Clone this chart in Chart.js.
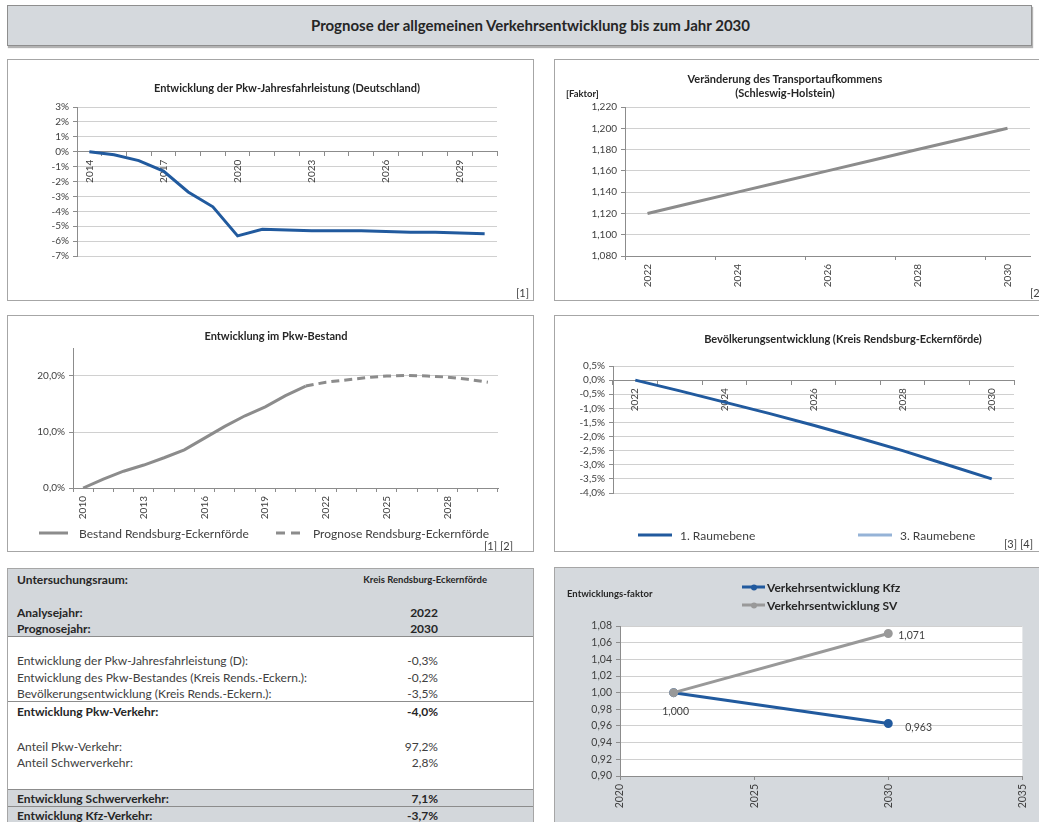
<!DOCTYPE html>
<html lang="de">
<head>
<meta charset="UTF-8">
<title>Prognose der allgemeinen Verkehrsentwicklung bis zum Jahr 2030</title>
<script src="https://cdn.jsdelivr.net/npm/chart.js@4.4.1/dist/chart.umd.min.js"></script>
<style>
  html, body { margin: 0; padding: 0; }
  body { width: 1039px; height: 822px; overflow: hidden; position: relative; background: #fff;
         font-family: Lato, "Open Sans", sans-serif; color: #262626; }
  .banner { position: absolute; left: 7px; top: 5px; width: 1025px; height: 41px; box-sizing: border-box;
            border: 1px solid #8e8e8e; background: #d5d9dd; box-shadow: 1px 2px 1px #b3b3b3;
            font-weight: bold; font-size: 15px; line-height: 39px; text-align: center; padding-left: 22px; }
  .panel { position: absolute; box-sizing: border-box; border: 1px solid #a6a6a6; background: #fff; overflow: hidden; }
  .panel canvas { position: absolute; left: 0; top: 0; }
  .t  { position: absolute; white-space: nowrap; transform: translate(-50%, -50%); font-weight: bold; font-size: 11px; }
  .n  { position: absolute; white-space: nowrap; transform: translateY(-50%); font-size: 12px; color: #404040; }
  .q  { position: absolute; white-space: nowrap; transform: translateY(-50%); font-size: 11px; color: #404040; }
  .lg { position: absolute; height: 3px; transform: translateY(-50%); }
  .dot { position: absolute; width: 6px; height: 6px; border-radius: 50%; left: 50%; top: 50%; transform: translate(-50%, -50%); }

  .row { position: relative; box-sizing: border-box; font-size: 12px; color: #404040; }
  .row span { position: absolute; top: 50%; transform: translateY(-50%); white-space: nowrap; }
  .row .l { left: 9px; }
  .row .r { right: 95px; }
  .grau { background: #d3d7db; }
  .b { font-weight: bold; color: #262626; }
  .linie { border-bottom: 1px solid #8c8c8c; }
</style>
</head>
<body>

<div class="banner">Prognose der allgemeinen Verkehrsentwicklung bis zum Jahr 2030</div>

<!-- oben links -->
<div class="panel" style="left:7px; top:59px; width:527px; height:242px;">
  <canvas id="cFahr" width="525" height="240"></canvas>
  <div class="t" style="left:279px; top:27px;">Entwicklung der Pkw-Jahresfahrleistung (Deutschland)</div>
  <div class="q" style="left:508px; top:232px;">[1]</div>
</div>

<!-- oben rechts -->
<div class="panel" style="left:554px; top:59px; width:500px; height:242px;">
  <canvas id="cTrans" width="484" height="240"></canvas>
  <div class="t" style="left:230px; top:18px;">Veränderung des Transportaufkommens</div>
  <div class="t" style="left:230px; top:32px;">(Schleswig-Holstein)</div>
  <div class="t" style="left:11px; top:33px; transform:translateY(-50%); font-size:9.5px;">[Faktor]</div>
  <div class="q" style="left:475px; top:232px;">[2]</div>
</div>

<!-- Mitte links -->
<div class="panel" style="left:7px; top:315px; width:527px; height:237px;">
  <canvas id="cBestand" width="525" height="235"></canvas>
  <div class="t" style="left:268px; top:19px;">Entwicklung im Pkw-Bestand</div>
  <div class="lg" style="left:31px; top:217px; width:29px; background:#8c8c8c;"></div>
  <div class="n" style="left:71px; top:217px;">Bestand Rendsburg-Eckernförde</div>
  <div class="lg" style="left:268px; top:217px; width:25px; background:repeating-linear-gradient(90deg,#8c8c8c 0 9px,transparent 9px 15px);"></div>
  <div class="n" style="left:305px; top:217px;">Prognose Rendsburg-Eckernförde</div>
  <div class="q" style="left:476px; top:229px;">[1] [2]</div>
</div>

<!-- Mitte rechts -->
<div class="panel" style="left:554px; top:315px; width:500px; height:237px;">
  <canvas id="cBev" width="484" height="235"></canvas>
  <div class="t" style="left:288px; top:22px;">Bevölkerungsentwicklung (Kreis Rendsburg-Eckernförde)</div>
  <div class="lg" style="left:83px; top:219px; width:34px; background:#215a9e;"></div>
  <div class="n" style="left:125px; top:219px;">1. Raumebene</div>
  <div class="lg" style="left:303px; top:219px; width:34px; background:#95b3d7;"></div>
  <div class="n" style="left:345px; top:219px;">3. Raumebene</div>
  <div class="q" style="left:449px; top:227px;">[3] [4]</div>
</div>

<!-- Tabelle -->
<div class="panel" style="left:7px; top:568px; width:527px; height:270px;">
  <div class="row grau" style="height:19px;"><span class="l b">Untersuchungsraum:</span><span class="b" style="right:46px; font-size:9.5px;">Kreis Rendsburg-Eckernförde</span></div>
  <div class="row grau" style="height:16px;"></div>
  <div class="row grau" style="height:16px;"><span class="l b">Analysejahr:</span><span class="r b">2022</span></div>
  <div class="row grau linie" style="height:17px;"><span class="l b">Prognosejahr:</span><span class="r b">2030</span></div>
  <div class="row" style="height:15px;"></div>
  <div class="row" style="height:16px;"><span class="l">Entwicklung der Pkw-Jahresfahrleistung (D):</span><span class="r">-0,3%</span></div>
  <div class="row" style="height:17px;"><span class="l">Entwicklung des Pkw-Bestandes (Kreis Rends.-Eckern.):</span><span class="r">-0,2%</span></div>
  <div class="row linie" style="height:17px;"><span class="l">Bevölkerungsentwicklung (Kreis Rends.-Eckern.):</span><span class="r">-3,5%</span></div>
  <div class="row" style="height:17px;"><span class="l b">Entwicklung Pkw-Verkehr:</span><span class="r b">-4,0%</span></div>
  <div class="row" style="height:19px;"></div>
  <div class="row" style="height:16px;"><span class="l">Anteil Pkw-Verkehr:</span><span class="r">97,2%</span></div>
  <div class="row" style="height:16px;"><span class="l">Anteil Schwerverkehr:</span><span class="r">2,8%</span></div>
  <div class="row linie" style="height:20px;"></div>
  <div class="row grau linie" style="height:17px;"><span class="l b">Entwicklung Schwerverkehr:</span><span class="r b">7,1%</span></div>
  <div class="row grau linie" style="height:17px;"><span class="l b">Entwicklung Kfz-Verkehr:</span><span class="r b">-3,7%</span></div>
</div>

<!-- unten rechts -->
<div class="panel" style="left:554px; top:567px; width:500px; height:270px; background:#d5d9dd;">
  <canvas id="cKfz" width="484" height="254"></canvas>
  <div class="t" style="left:12px; top:25px; transform:translateY(-50%); font-size:9.5px;">Entwicklungs-faktor</div>
  <div class="lg" style="left:187px; top:19px; width:23px; background:#215a9e;"><div class="dot" style="background:#215a9e;"></div></div>
  <div class="t" style="left:212px; top:19px; transform:translateY(-50%); font-size:12px;">Verkehrsentwicklung Kfz</div>
  <div class="lg" style="left:187px; top:37px; width:23px; background:#999;"><div class="dot" style="background:#999;"></div></div>
  <div class="t" style="left:212px; top:37px; transform:translateY(-50%); font-size:12px;">Verkehrsentwicklung SV</div>
</div>

<script>
// Pkw-Jahresfahrleistung Deutschland, Veränderung in %
const fahrJahre = ['2014', '2015', '2016', '2017', '2018', '2019', '2020', '2021', '2022',
                   '2023', '2024', '2025', '2026', '2027', '2028', '2029', '2030'];
const fahrleistung = [0, -0.2, -0.6, -1.3, -2.7, -3.7, -5.65, -5.2, -5.25,
                      -5.3, -5.3, -5.3, -5.35, -5.4, -5.4, -5.45, -5.5];

// Transportaufkommen Schleswig-Holstein, Faktor
const transJahre = ['2022', '2023', '2024', '2025', '2026', '2027', '2028', '2029', '2030'];
const transFaktor = [1.12, 1.13, 1.14, 1.15, 1.16, 1.17, 1.18, 1.19, 1.20];

// Pkw-Bestand Rendsburg-Eckernförde, Veränderung in %
const bestandJahre = ['2010', '2011', '2012', '2013', '2014', '2015', '2016', '2017', '2018', '2019', '2020',
                      '2021', '2022', '2023', '2024', '2025', '2026', '2027', '2028', '2029', '2030'];
const bestand  = [0, 1.6, 3.0, 4.1, 5.4, 6.8, 8.9, 11.0, 12.9, 14.5, 16.5, 18.2,
                  null, null, null, null, null, null, null, null, null];
const prognose = [null, null, null, null, null, null, null, null, null, null, null, 18.2,
                  18.9, 19.3, 19.7, 20.0, 20.1, 20.0, 19.8, 19.4, 18.9];

// Bevölkerung Kreis Rendsburg-Eckernförde, Veränderung in %
const bevJahre = ['2022', '2023', '2024', '2025', '2026', '2027', '2028', '2029', '2030'];
const raumebene1 = [0, -0.38, -0.78, -1.18, -1.6, -2.04, -2.5, -3.0, -3.5];
const raumebene3 = [];

// Entwicklungsfaktoren
const faktorJahre = [2022, 2030];
const faktorKfz = [1.000, 0.963];
const faktorSV  = [1.000, 1.071];

const BLAU = '#215a9e', GRAU = '#8c8c8c', HELLBLAU = '#95b3d7';
const ACHSE = '#8c8c8c', GITTER = '#d0d0d0';

Chart.defaults.font.family = 'Lato, "Open Sans", sans-serif';
Chart.defaults.font.size = 10;
Chart.defaults.color = '#404040';
Chart.defaults.animation = false;
Chart.defaults.plugins.legend.display = false;
Chart.defaults.plugins.tooltip.enabled = false;
Chart.defaults.elements.point.radius = 0;
Chart.defaults.elements.line.tension = 0;

const breite = w => s => { s.width = w; };
const hoehe  = h => s => { s.height = h; };
const komma  = (v, d) => v.toFixed(d).replace('.', ',');

function xAchse(labels, jede, extra) {
  return Object.assign({
    offset: true,
    grid: { drawOnChartArea: false, offset: true, tickLength: 4, tickColor: ACHSE },
    border: { color: ACHSE },
    ticks: { autoSkip: false, minRotation: 90, maxRotation: 90, padding: 4,
             callback: (v, i) => i % jede === 0 ? labels[i] : '' }
  }, extra);
}

function yAchse(min, max, step, fmt, w) {
  return {
    min, max,
    grid: { color: GITTER, tickLength: 4, tickColor: ACHSE },
    border: { color: ACHSE },
    ticks: { stepSize: step, autoSkip: false, includeBounds: false, padding: 4, callback: fmt },
    afterFit: breite(w)
  };
}

new Chart(document.getElementById('cFahr'), {
  type: 'line',
  data: { labels: fahrJahre, datasets: [{ data: fahrleistung, borderColor: BLAU, borderWidth: 3 }] },
  options: {
    responsive: false,
    layout: { padding: { top: 47, right: 36, bottom: 44, left: 0 } },
    scales: {
      x: xAchse(fahrJahre, 3, { position: { y: 0 } }),
      y: yAchse(-7, 3, 1, v => v + '%', 69)
    }
  }
});

const transX = xAchse(transJahre, 2, { afterFit: hoehe(44) });
transX.grid.tickColor = c => c.index % 2 === 0 ? ACHSE : 'transparent';
new Chart(document.getElementById('cTrans'), {
  type: 'line',
  data: { labels: transJahre, datasets: [{ data: transFaktor, borderColor: GRAU, borderWidth: 3 }] },
  options: {
    responsive: false,
    layout: { padding: { top: 47, right: 9, bottom: 0, left: 0 } },
    scales: {
      x: transX,
      y: yAchse(1.08, 1.22, 0.02, v => komma(v, 3), 70)
    }
  }
});

new Chart(document.getElementById('cBestand'), {
  type: 'line',
  data: {
    labels: bestandJahre,
    datasets: [
      { data: bestand, borderColor: GRAU, borderWidth: 3 },
      { data: prognose, borderColor: GRAU, borderWidth: 3, borderDash: [8, 5] }
    ]
  },
  options: {
    responsive: false,
    layout: { padding: { top: 32, right: 35, bottom: 0, left: 0 } },
    scales: {
      x: xAchse(bestandJahre, 3, { afterFit: hoehe(63) }),
      y: yAchse(0, 25, 10, v => komma(v, 1) + '%', 65)
    }
  }
});

new Chart(document.getElementById('cBev'), {
  type: 'line',
  data: {
    labels: bevJahre,
    datasets: [
      { data: raumebene1, borderColor: BLAU, borderWidth: 3 },
      { data: raumebene3, borderColor: HELLBLAU, borderWidth: 3 }
    ]
  },
  options: {
    responsive: false,
    layout: { padding: { top: 50, right: 25, bottom: 58, left: 0 } },
    scales: {
      x: xAchse(bevJahre, 2, { position: { y: 0 } }),
      y: yAchse(-4, 0.5, 0.5, v => komma(v, 1) + '%', 58)
    }
  }
});

const weissFlaeche = {
  id: 'weissFlaeche',
  beforeDraw(chart) {
    const { ctx, chartArea: a } = chart;
    ctx.save();
    ctx.fillStyle = '#fff';
    ctx.fillRect(a.left, a.top, a.width, a.height);
    ctx.restore();
  }
};

const wertLabels = {
  id: 'wertLabels',
  afterDatasetsDraw(chart) {
    const ctx = chart.ctx;
    ctx.save();
    ctx.font = '10.5px Lato, "Open Sans", sans-serif';
    ctx.fillStyle = '#404040';
    ctx.textBaseline = 'middle';
    chart.data.datasets.forEach((ds, di) => {
      chart.getDatasetMeta(di).data.forEach((pt, i) => {
        const p = ds.labelPos && ds.labelPos[i];
        if (!p) return;
        ctx.textAlign = p.align;
        ctx.fillText(komma(ds.data[i].y, 3), pt.x + p.dx, pt.y + p.dy);
      });
    });
    ctx.restore();
  }
};

const kfzY = yAchse(0.9, 1.08, 0.02, v => komma(v, 2), 65);
kfzY.ticks.font = { size: 10.5 };
new Chart(document.getElementById('cKfz'), {
  type: 'line',
  data: {
    datasets: [
      { data: faktorJahre.map((j, i) => ({ x: j, y: faktorKfz[i] })), borderColor: BLAU, backgroundColor: BLAU,
        borderWidth: 3, pointRadius: 3, order: 1,
        labelPos: [{ align: 'center', dx: 2, dy: 19 }, { align: 'left', dx: 17, dy: 4 }] },
      { data: faktorJahre.map((j, i) => ({ x: j, y: faktorSV[i] })), borderColor: '#999', backgroundColor: '#999',
        borderWidth: 3, pointRadius: 3, order: 0,
        labelPos: [null, { align: 'left', dx: 10, dy: 2 }] }
    ]
  },
  plugins: [weissFlaeche, wertLabels],
  options: {
    responsive: false,
    layout: { padding: { top: 58, right: 6, bottom: 0, left: 0 } },
    scales: {
      x: { type: 'linear', min: 2020, max: 2035,
           grid: { drawOnChartArea: false, tickLength: 4, tickColor: ACHSE },
           border: { color: ACHSE },
           ticks: { stepSize: 5, minRotation: 90, maxRotation: 90, padding: 4, font: { size: 10.5 },
                    callback: v => String(v) },
           afterFit: hoehe(46) },
      y: kfzY
    }
  }
});
</script>
</body>
</html>
